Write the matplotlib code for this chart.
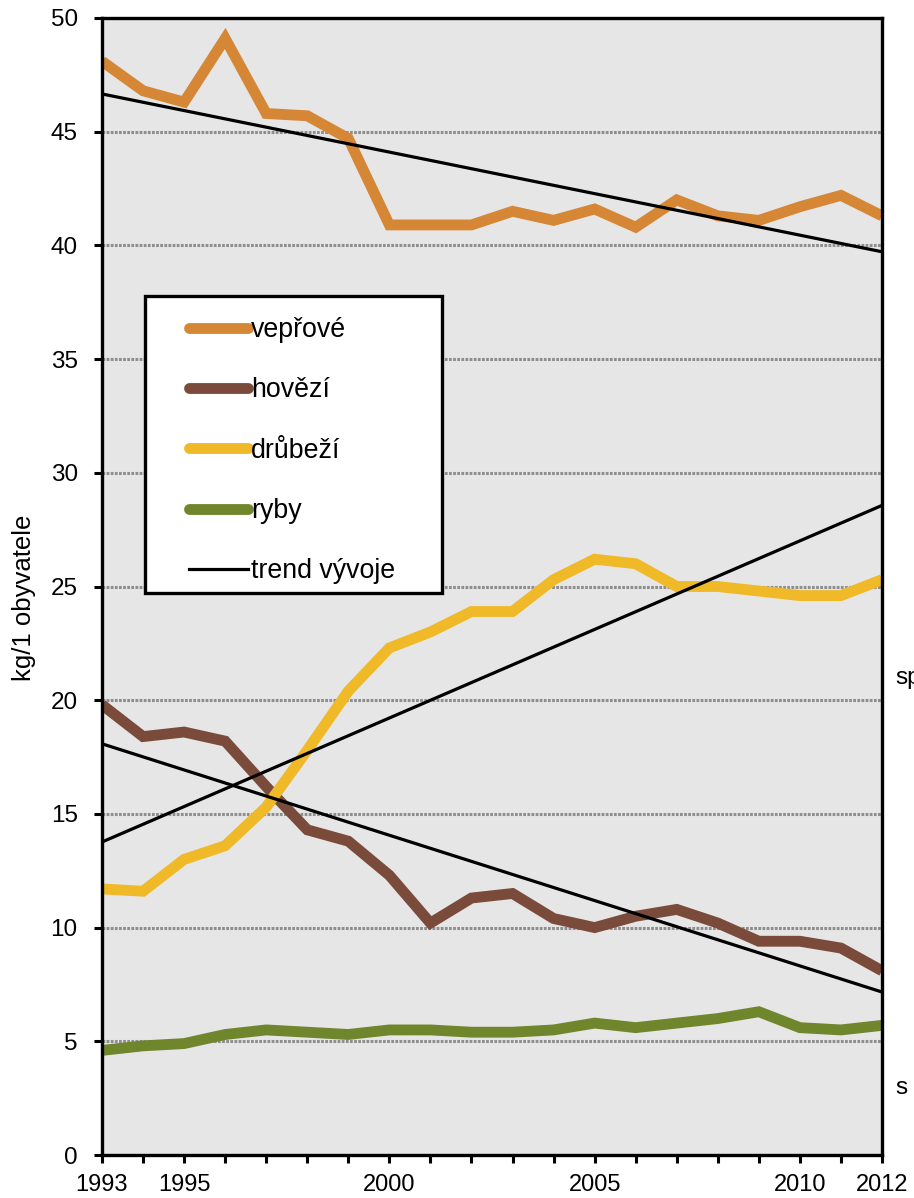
import numpy as np
import matplotlib
matplotlib.use('Agg')
import matplotlib.pyplot as plt
from matplotlib.patches import Rectangle
from matplotlib.lines import Line2D

plt.rcParams['font.family'] = ['Liberation Sans', 'DejaVu Sans']

years = list(range(1993, 2013))
veprove = [48.1, 46.8, 46.3, 49.1, 45.8, 45.7, 44.7, 40.9, 40.9, 40.9,
           41.5, 41.1, 41.6, 40.8, 42.0, 41.3, 41.1, 41.7, 42.2, 41.3]
hovezi = [19.8, 18.4, 18.6, 18.2, 16.2, 14.3, 13.8, 12.3, 10.2, 11.3,
          11.5, 10.4, 10.0, 10.5, 10.8, 10.2, 9.4, 9.4, 9.1, 8.1]
drubezi = [11.7, 11.6, 13.0, 13.6, 15.3, 17.8, 20.4, 22.3, 23.0, 23.9,
           23.9, 25.3, 26.2, 26.0, 25.0, 25.0, 24.8, 24.6, 24.6, 25.3]
ryby = [4.6, 4.8, 4.9, 5.3, 5.5, 5.4, 5.3, 5.5, 5.5, 5.4,
        5.4, 5.5, 5.8, 5.6, 5.8, 6.0, 6.3, 5.6, 5.5, 5.7]

labels = ['vepřové', 'hovězí', 'drůbeží', 'ryby']
trend_label = 'trend vývoje'
colors = ['#d58735', '#7a4b3a', '#efb927', '#6f862c']
yticks = list(range(0, 51, 5))
xlabel_years = [1993, 1995, 2000, 2005, 2010, 2012]
ylabel = 'kg/1 obyvatele'

W, H = 914, 1198
fig = plt.figure(figsize=(W / 100, H / 100), dpi=100)
L, R, T, B = 102, 882, 18, 1155
ax = fig.add_axes([L / W, 1 - B / H, (R - L) / W, (B - T) / H])
ax.set_facecolor('#e6e6e6')

for y in yticks:
    ax.axhline(y, color='#8e8e8e', lw=2.2, ls=(0, (0.9, 0.45)), zorder=1)

series = [veprove, hovezi, drubezi, ryby]
x = np.array(years, dtype=float)
for vals, c, lab in zip(series, colors, labels):
    ax.plot(years, vals, color=c, lw=7.8, solid_joinstyle='miter',
            solid_capstyle='butt', zorder=2, label=lab)

for vals in series[:3]:
    k, q = np.polyfit(x, vals, 1)
    ax.plot(x, k * x + q, color='black', lw=2.3, zorder=3)

ax.set_xlim(1993, 2012)
ax.set_ylim(0, 50)
ax.set_yticks(yticks)
ax.set_yticklabels([str(v) for v in yticks], fontsize=17.5)
ax.set_xticks(years)
ax.set_xticklabels([str(v) if v in xlabel_years else '' for v in years], fontsize=17)
ax.tick_params(axis='y', direction='out', length=6, width=2.2, pad=11.5)
ax.tick_params(axis='x', direction='out', length=6, width=2.2, pad=8)
for s in ax.spines.values():
    s.set_linewidth(2.4)
    s.set_color('black')
    s.set_zorder(6)

ax.set_ylabel(ylabel, fontsize=18.5)
ax.yaxis.set_label_coords((24 - L) / (R - L), (B - 598) / (B - T))
ax.yaxis.label.set_va('center')

# legend box
bx0, bx1, by0, by1 = 145, 442, 296, 593
rect = Rectangle(((bx0 - L) / (R - L), (B - by1) / (B - T)),
                 (bx1 - bx0) / (R - L), (by1 - by0) / (B - T),
                 transform=ax.transAxes, facecolor='white', edgecolor='black',
                 lw=2.4, zorder=7)
ax.add_patch(rect)
handles = [Line2D([], [], color=c, lw=7.8, solid_capstyle='round') for c in colors]
handles.append(Line2D([], [], color='black', lw=2.3))
leg = ax.legend(handles, labels + [trend_label], loc='upper left',
                bbox_to_anchor=((189 - L) / (R - L), (B - 317) / (B - T)),
                frameon=False, fontsize=19.3, handlelength=2.2,
                handletextpad=0.1, labelspacing=1.28, borderpad=0,
                borderaxespad=0)
leg.set_zorder(8)

fig.text(895 / W, 1 - 678 / H, 'sp', fontsize=17.5, va='center', ha='left')
fig.text(895 / W, 1 - 1088 / H, 's', fontsize=17.5, va='center', ha='left')

fig.savefig('out.png', dpi=100)
